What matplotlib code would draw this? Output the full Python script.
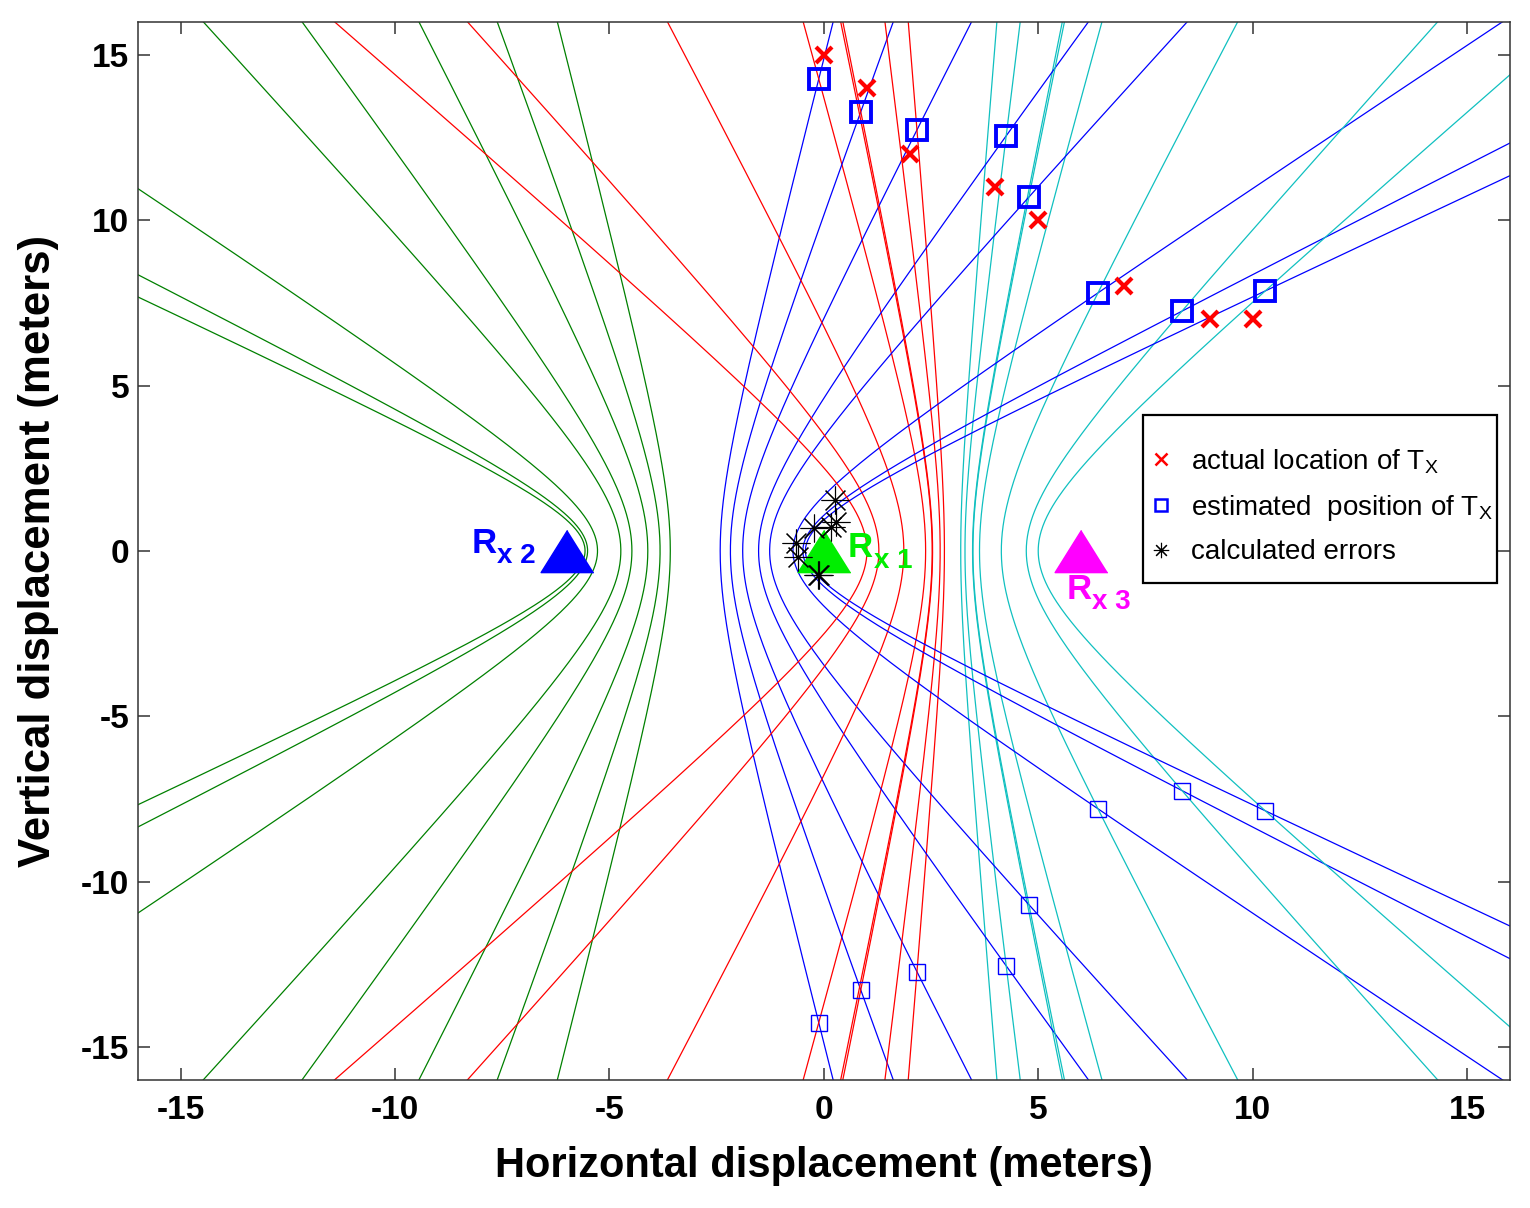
import numpy as np
import matplotlib
matplotlib.use('Agg')
import matplotlib.pyplot as plt
from matplotlib.lines import Line2D
from matplotlib.patches import Rectangle

plt.rcParams['font.family'] = ['Liberation Sans', 'DejaVu Sans']
plt.rcParams['mathtext.fontset'] = 'custom'
plt.rcParams['mathtext.rm'] = 'Liberation Sans'
plt.rcParams['mathtext.bf'] = 'Liberation Sans:bold'
plt.rcParams['axes.unicode_minus'] = False

# receivers (meters)
rx_names = ['1', '2', '3']
rx_x = [0.0, -6.0, 6.0]
rx_y = [0.0, 0.0, 0.0]

# actual transmitter locations
actual_x = [0, 1, 2, 4, 5, 7, 9, 10]
actual_y = [15, 14, 12, 11, 10, 8, 7, 7]

# estimated transmitter positions (hyperbola intersections)
est_x = [-0.12, 0.86, 2.17, 4.25, 4.78, 6.39, 8.35, 10.29]
est_y = [14.27, 13.28, 12.73, 12.55, 10.70, 7.80, 7.25, 7.86]

# calculated errors (estimated - actual)
err_x = [-0.12, -0.14, 0.17, 0.25, -0.22, -0.61, -0.65, 0.29]
err_y = [-0.73, -0.72, 0.73, 1.55, 0.70, -0.20, 0.25, 0.86]


def hyperbola(f1, f2, px, py, y):
    # both branches of |d1 - d2| = const through (px, py), foci on the x axis
    d = abs(np.hypot(px - f1, py) - np.hypot(px - f2, py))
    a = d / 2
    c = abs(f2 - f1) / 2
    cx = (f1 + f2) / 2
    b2 = c ** 2 - a ** 2
    r = a * np.sqrt(1 + y ** 2 / b2)
    return cx - r, cx + r


fig = plt.figure(figsize=(15.3, 12.08), dpi=100)
ax = fig.add_axes([0.090, 0.106, 0.897, 0.876])

yy = np.linspace(-20, 20, 801)
for px, py in zip(est_x, est_y):
    left, right = hyperbola(rx_x[1], rx_x[0], px, py, yy)
    ax.plot(left, yy, color='#008000', lw=0.9, zorder=2)
    ax.plot(right, yy, color='#0000ff', lw=0.9, zorder=2)
    left, right = hyperbola(rx_x[0], rx_x[2], px, py, yy)
    ax.plot(left, yy, color='#ff0000', lw=0.9, zorder=2)
    ax.plot(right, yy, color='#10c0c0', lw=0.9, zorder=2)

# mirror solutions below the axis
ax.plot(est_x, [-v for v in est_y], ls='none', marker='s', ms=11,
        mfc='none', mec='#0000ff', mew=1.0, zorder=3)
ax.plot(est_x, est_y, ls='none', marker='s', ms=15,
        mfc='none', mec='#0000ff', mew=2.8, zorder=4)
ax.plot(actual_x, actual_y, ls='none', marker='x', ms=11,
        mec='#ff0000', mew=3.0, zorder=5)

tri = [(0, 0.8), (-1, -0.8), (1, -0.8)]
rx_colors = ['#00ee00', '#0000ff', '#ff00ff']
for x, y, c in zip(rx_x, rx_y, rx_colors):
    ax.plot(x, y, ls='none', marker=tri, ms=38, mfc=c, mec=c, zorder=6)
ax.plot(err_x, err_y, ls='none', marker=(8, 2, 0), ms=20,
        mec='black', mew=0.8, zorder=7)

# receiver labels: big R with a subscript "x n"
lab_pos = [(0.56, -0.19), (-8.21, -0.05), (5.65, -1.45)]
for (lx, ly), n, c in zip(lab_pos, rx_names, rx_colors):
    ax.text(lx, ly, 'R', color=c, fontsize=25, fontweight='bold',
            va='baseline', zorder=8)
    ax.annotate('x ' + n, (lx, ly), xytext=(18.5, -7.5),
                textcoords='offset points', color=c, fontsize=20,
                fontweight='bold', va='baseline', zorder=8)

ax.set_xlim(-16, 16)
ax.set_ylim(-16, 16)
ticks = [-15, -10, -5, 0, 5, 10, 15]
ax.set_xticks(ticks)
ax.set_yticks(ticks)
ax.tick_params(direction='in', length=8.5, width=1.1, top=True, right=True,
               labelsize=24, color='#333333')
ax.tick_params(axis='x', pad=11)
ax.tick_params(axis='y', pad=6)
for t in ax.get_xticklabels() + ax.get_yticklabels():
    t.set_fontweight('bold')
for s in ax.spines.values():
    s.set_linewidth(1.1)
    s.set_color('#333333')

ax.set_xlabel('Horizontal displacement (meters)', fontsize=30,
              fontweight='bold', labelpad=14)
ax.set_ylabel('Vertical displacement (meters)', fontsize=31.5,
              fontweight='bold', labelpad=16)

# legend box drawn separately so the padding matches the original
box = Rectangle((0.7325, 0.470), 0.258, 0.1585, transform=ax.transAxes,
                facecolor='white', edgecolor='black', lw=1.6, zorder=8)
ax.add_patch(box)

handles = [
    Line2D([], [], ls='none', marker='x', ms=8, mec='#ff0000', mew=1.8),
    Line2D([], [], ls='none', marker='s', ms=8, mfc='none', mec='#0000ff', mew=1.8),
    Line2D([], [], ls='none', marker=(8, 2, 0), ms=11, mec='black', mew=0.8),
]
labels = [r'actual location of T$_\mathregular{X}$',
          r'estimated  position of T$_\mathregular{X}$',
          'calculated errors']
leg = ax.legend(handles, labels, loc='upper left',
                bbox_to_anchor=(0.7398, 0.598), frameon=False,
                handlelength=0.6, handletextpad=0.75, borderpad=0,
                labelspacing=0.6, borderaxespad=0, prop={'size': 20})
leg.set_zorder(9)

fig.savefig('out.png', dpi=100)
